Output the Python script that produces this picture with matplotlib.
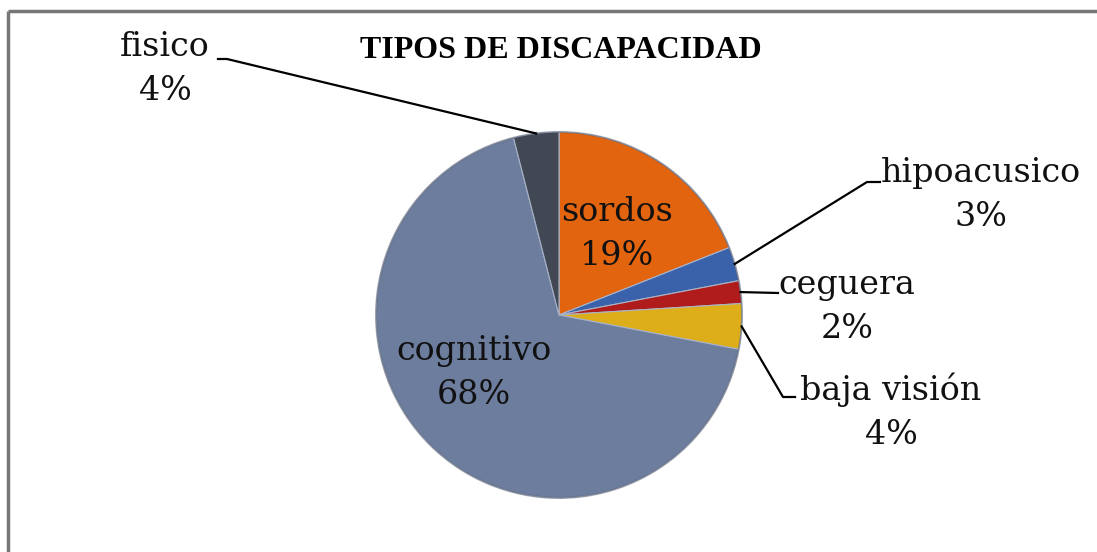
import numpy as np
import matplotlib
matplotlib.use("Agg")
import matplotlib.pyplot as plt

# data
categories = ["sordos", "hipoacusico", "ceguera", "baja visión", "cognitivo", "fisico"]
percent = [19, 3, 2, 4, 68, 4]
colors = ["#E2640F", "#3A62AA", "#B01C1C", "#DDAE1A", "#6D7D9E", "#414753"]
title = "TIPOS DE DISCAPACIDAD"

W, H = 1097, 552
fig = plt.figure(figsize=(W / 100, H / 100), dpi=100)
ax = fig.add_axes([0, 0, 1, 1])

# chart frame (only top/left edges visible in the crop)
ax.plot([8, 8], [0, H - 11], color="#777777", lw=2.5, solid_capstyle="butt")
ax.plot([8, W], [H - 11, H - 11], color="#777777", lw=2.5, solid_capstyle="butt")

cx, cy, r = 559, H - 315, 183
wedges, _ = ax.pie(percent, colors=colors, startangle=90, counterclock=False,
                   center=(cx, cy), radius=r, frame=True,
                   wedgeprops=dict(edgecolor="#a9b3c8", linewidth=0.8))
ax.set_xlim(0, W)
ax.set_ylim(0, H)
ax.set_aspect("equal")
ax.axis("off")

# subtle rim shading for the bevel look
ax.add_patch(plt.Circle((cx, cy), r, fill=False, ec="#3b4252", lw=1.5, alpha=0.35))

font = dict(family="DejaVu Serif", fontsize=24, color="#111111")

# label positions (text centre, image pixel coords) and leader elbows
layout = {
    "sordos": dict(text=(617, 234), inside=True),
    "cognitivo": dict(text=(474, 373), inside=True),
    "hipoacusico": dict(text=(981, 195), elbow=[(867, 182), (880, 182)]),
    "ceguera": dict(text=(847, 307), elbow=[(778, 293)]),
    "baja visión": dict(text=(891, 412), elbow=[(783, 397), (795, 397)]),
    "fisico": dict(text=(165, 69), elbow=[(227, 59), (218, 59)]),
}

for w, name, p in zip(wedges, categories, percent):
    lay = layout[name]
    tx, ty = lay["text"]
    ax.text(tx, H - ty, f"{name}\n{p}%", ha="center", va="center",
            linespacing=1.5, **font)
    if lay.get("inside"):
        continue
    ang = np.deg2rad((w.theta1 + w.theta2) / 2)
    x0 = cx + r * np.cos(ang)
    y0 = cy + r * np.sin(ang)
    xs = [x0] + [e[0] for e in lay["elbow"]]
    ys = [y0] + [H - e[1] for e in lay["elbow"]]
    ax.plot(xs, ys, color="black", lw=1.6)

ax.text(561, H - 50, title, ha="center", va="center", family="Liberation Serif",
        fontweight="bold", fontsize=23, color="black")

fig.savefig("out.png", dpi=100)
